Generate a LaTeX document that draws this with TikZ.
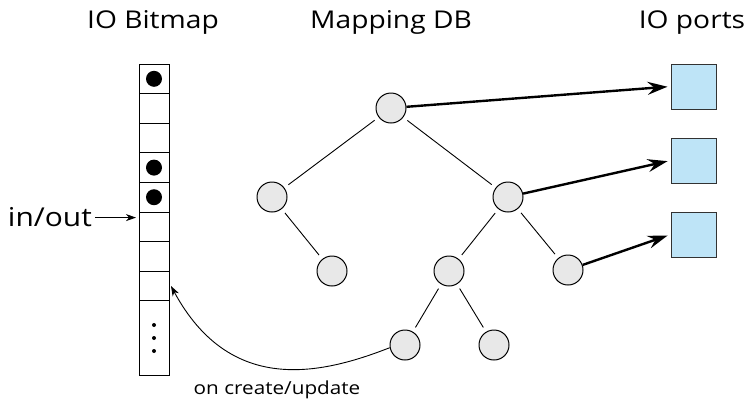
\documentclass[tikz,border=0pt]{standalone}
\usepackage{fontspec}
\setmainfont[FakeStretch=1.15]{Open Sans}
\usetikzlibrary{arrows.meta}
\definecolor{nodegray}{RGB}{232,232,232}
\definecolor{portblue}{RGB}{190,228,247}
\definecolor{portedge}{RGB}{50,50,50}
\begin{document}
\begin{tikzpicture}[x=1pt,y=-1pt,
  cell/.style={draw, line width=1pt, minimum width=30pt, minimum height=29.6pt, inner sep=0pt, outer sep=0pt},
  tn/.style={circle, draw, fill=nodegray, minimum size=30pt, inner sep=0pt, line width=1pt},
  port/.style={draw=portedge, fill=portblue, minimum size=45pt, inner sep=0pt, line width=1pt},
  edge/.style={line width=0.9pt, shorten <=5pt, shorten >=5pt},
  big/.style={line width=2.4pt, -{Stealth[length=20pt,width=13pt,inset=7pt]}, shorten >=3pt},
  thinarrow/.style={line width=0.9pt, -{Stealth[length=10pt,width=7pt,inset=3pt]}},
  title/.style={font=\fontsize{24.5}{28}\selectfont, anchor=base, inner sep=0pt},
]
\useasboundingbox (0,0) rectangle (751,400);

% titles
\node[title] (t1) at (153,28) {IO Bitmap};
\node[title] (t2) at (391,28) {Mapping DB};
\node[title] (t3) at (692,28) {IO ports};

% bitmap
\foreach \i in {1,...,8} \node[cell] (c\i) at (154,49.2+29.6*\i) {};
\node[cell, minimum height=74.2pt] (c9) at (154,337.9) {};
\foreach \i in {1,4,5} \fill (c\i.center) circle[radius=8pt];
\foreach \yy in {325,338,351} \fill (154,\yy) circle[radius=2pt];

% in/out
\node[font=\fontsize{26}{30}\selectfont, anchor=base east, inner sep=0pt] (io) at (92,226) {in/out};
\draw[thinarrow] ([xshift=3pt,yshift=-1pt]io.east) -- ([xshift=-3pt,yshift=-1pt]io.east -| c6.west);

% tree
\node[tn] (r) at (391,108) {};
\node[tn] (a) at (272,197) {};
\node[tn] (b) at (508,197) {};
\node[tn] (a1) at (332,271) {};
\node[tn] (b1) at (449,271) {};
\node[tn] (b2) at (568,270) {};
\node[tn] (b11) at (405,345) {};
\node[tn] (b12) at (494,345) {};
\draw[edge] (r) -- (a);
\draw[edge] (r) -- (b);
\draw[edge] (a) -- (a1);
\draw[edge] (b) -- (b1);
\draw[edge] (b) -- (b2);
\draw[edge] (b1) -- (b11);
\draw[edge] (b1) -- (b12);

% ports
\node[port] (p1) at (693.5,86.5) {};
\node[port] (p2) at (693.5,160.5) {};
\node[port] (p3) at (693.5,234.5) {};
\draw[big] (r) -- (p1.west);
\draw[big] (b) -- (p2.west);
\draw[big] (b2) -- (p3.west);

% update curve
\draw[thinarrow] (b11.190) .. controls (320,375) and (230,395) .. ([xshift=2pt]c8.east);
\node[font=\fontsize{18}{22}\selectfont, anchor=base, inner sep=0pt] (lbl) at (277,394) {on create/update};
\end{tikzpicture}
\end{document}
